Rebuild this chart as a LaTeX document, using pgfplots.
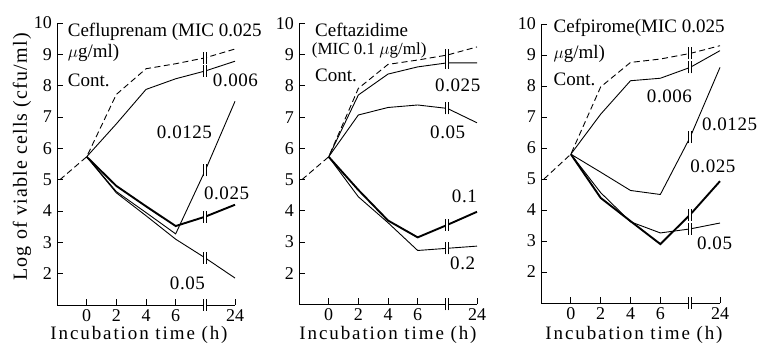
\documentclass[border=0pt]{standalone}
\usepackage{fontspec}
\setmainfont{Liberation Serif}
\newfontfamily\xlabfont[LetterSpace=10]{Liberation Serif}
\newfontfamily\ylabfont[LetterSpace=6]{Liberation Serif}
\newfontfamily\numfont[LetterSpace=3]{Liberation Serif}
\usepackage{pgfplots}
\pgfplotsset{compat=1.18}
\pgfdeclareplotmark{brk}{%
  \pgfpathrectangle{\pgfqpoint{-1.6pt}{-6pt}}{\pgfqpoint{3.2pt}{12pt}}%
  \pgfsetfillcolor{white}\pgfusepathqfill
  \pgfpathmoveto{\pgfqpoint{-1.6pt}{-6pt}}%
  \pgfpathlineto{\pgfqpoint{-1.6pt}{6pt}}%
  \pgfpathmoveto{\pgfqpoint{1.6pt}{-6pt}}%
  \pgfpathlineto{\pgfqpoint{1.6pt}{6pt}}%
  \pgfusepathqstroke
}
\tikzset{
  lthin/.style={black, line width=0.9pt, mark=none},
  lthick/.style={black, line width=1.9pt, mark=none},
  lcont/.style={black, line width=0.9pt, dash pattern=on 6pt off 3.5pt, mark=none},
  brks/.style={only marks, mark=brk, black, line width=0.9pt},
  ttl/.style={anchor=west, font=\fontsize{19}{19}\selectfont, inner sep=0pt},
  num/.style={anchor=west, font=\fontsize{19}{19}\numfont, inner sep=0pt},
}
\pgfplotsset{
  panel/.style={scale only axis, width=178pt, height=282pt,
    xmin=-2, xmax=10, ymin=1, ymax=10,
    axis x line=bottom, axis y line=left,
    axis line style={-, line width=0.9pt},
    tick align=inside, major tick length=6pt,
    tick style={line width=0.9pt, black},
    xtick={0,2,4,6,10}, xticklabels={0,2,4,6,24},
    ytick={2,3,4,5,6,7,8,9,10},
    ticklabel style={font=\fontsize{18}{18}\selectfont, inner sep=0pt},
    xticklabel style={yshift=-4pt},
    yticklabel style={xshift=-5pt},
    /pgf/number format/assume math mode=true,
    clip=false, anchor=south west},
}
\begin{document}
\begin{tikzpicture}
\useasboundingbox (0,0) rectangle (759pt,344pt);
% ---------- Panel 1 ----------
\begin{axis}[panel, at={(57pt,39pt)}]
\addplot[lcont] coordinates {(-1.8,5.0) (0,5.73) (2,7.72) (4,8.54) (6,8.70) (8,8.89) (10,9.17)};
\addplot[lthin] coordinates {(0,5.73) (2,6.78) (4,7.88) (6,8.22) (8,8.47) (10,8.78)};
\addplot[lthin] coordinates {(0,5.73) (2,4.62) (4,3.95) (6,3.27) (8,5.3) (10,7.5)};
\addplot[lthick] coordinates {(0,5.73) (2,4.8) (4,4.15) (6,3.52) (8,3.82) (10,4.2)};
\addplot[lthin] coordinates {(0,5.73) (2,4.58) (4,3.85) (6,3.1) (8,2.5) (10,1.86)};
\addplot[brks] coordinates {(8,8.89) (8,8.47) (8,5.3) (8,3.82) (8,2.5) (8,1)};
\node[ttl] at (axis cs:-1.28,9.71) {Cefluprenam (MIC 0.025};
\node[ttl] at (axis cs:-1.28,9.04) {$\mu$g/ml)};
\node[ttl] at (axis cs:-1.28,8.18) {Cont.};
\node[num] at (axis cs:8.5,8.18) {0.006};
\node[num] at (axis cs:4.72,6.52) {0.0125};
\node[num] at (axis cs:7.9,4.57) {0.025};
\node[num] at (axis cs:5.6,1.7) {0.05};
\end{axis}
% ---------- Panel 2 ----------
\begin{axis}[panel, at={(299pt,39.5pt)}, height=281pt]
\addplot[lcont] coordinates {(-1.8,5.0) (0,5.73) (2,7.92) (4,8.69) (6,8.83) (8,8.99) (10,9.25)};
\addplot[lthin] coordinates {(0,5.73) (2,7.71) (4,8.38) (6,8.61) (8,8.74) (10,8.74)};
\addplot[lthin] coordinates {(0,5.73) (2,7.07) (4,7.31) (6,7.39) (8,7.28) (10,6.82)};
\addplot[lthick] coordinates {(0,5.73) (2,4.67) (4,3.69) (6,3.15) (8,3.55) (10,3.97)};
\addplot[lthin] coordinates {(0,5.73) (2,4.45) (4,3.62) (6,2.73) (8,2.8) (10,2.87)};
\addplot[brks] coordinates {(8,8.99) (8,8.74) (8,7.28) (8,3.55) (8,2.8) (8,1)};
\node[ttl] at (axis cs:-0.92,9.79) {Ceftazidime};
\node[ttl, font=\fontsize{17}{17}\selectfont] at (axis cs:-1.14,9.15) {(MIC 0.1 $\mu$g/ml)};
\node[ttl] at (axis cs:-0.92,8.35) {Cont.};
\node[num] at (axis cs:7.17,8.02) {0.025};
\node[num] at (axis cs:6.83,6.53) {0.05};
\node[num] at (axis cs:8.3,4.45) {0.1};
\node[num] at (axis cs:8.18,2.32) {0.2};
\end{axis}
% ---------- Panel 3 ----------
\begin{axis}[panel, at={(541pt,41pt)}, height=279pt, width=179pt]
\addplot[lcont] coordinates {(-1.8,5.0) (0,5.8) (2,7.97) (4,8.76) (6,8.87) (8,9.05) (10,9.3)};
\addplot[lthin] coordinates {(0,5.8) (2,7.09) (4,8.17) (6,8.25) (8,8.6) (10,9.14)};
\addplot[lthin] coordinates {(0,5.8) (2,5.22) (4,4.63) (6,4.5) (8,6.35) (10,8.6)};
\addplot[lthick] coordinates {(0,5.8) (2,4.39) (4,3.64) (6,2.9) (8,3.85) (10,4.93)};
\addplot[lthin] coordinates {(0,5.8) (2,4.56) (4,3.62) (6,3.26) (8,3.39) (10,3.58)};
\addplot[brks] coordinates {(8,9.05) (8,8.6) (8,6.35) (8,3.85) (8,3.39) (8,1)};
\node[ttl] at (axis cs:-1.17,9.89) {Cefpirome(MIC 0.025};
\node[ttl] at (axis cs:-1.17,9.03) {$\mu$g/ml)};
\node[ttl] at (axis cs:-1.17,8.22) {Cont.};
\node[num] at (axis cs:5.09,7.68) {0.006};
\node[num] at (axis cs:8.78,6.76) {0.0125};
\node[num] at (axis cs:8.0,5.41) {0.025};
\node[num] at (axis cs:8.45,2.93) {0.05};
\end{axis}
% ---------- Labels ----------
\node[rotate=90, inner sep=0pt, font=\fontsize{20}{20}\ylabfont] at (22pt,187pt) {Log of viable cells (cfu/ml)};
\node[inner sep=0pt, font=\fontsize{19}{19}\xlabfont] at (139pt,9pt) {Incubation time (h)};
\node[inner sep=0pt, font=\fontsize{19}{19}\xlabfont] at (388pt,9.5pt) {Incubation time (h)};
\node[inner sep=0pt, font=\fontsize{19}{19}\xlabfont] at (634pt,9.5pt) {Incubation time (h)};
\end{tikzpicture}
\end{document}
